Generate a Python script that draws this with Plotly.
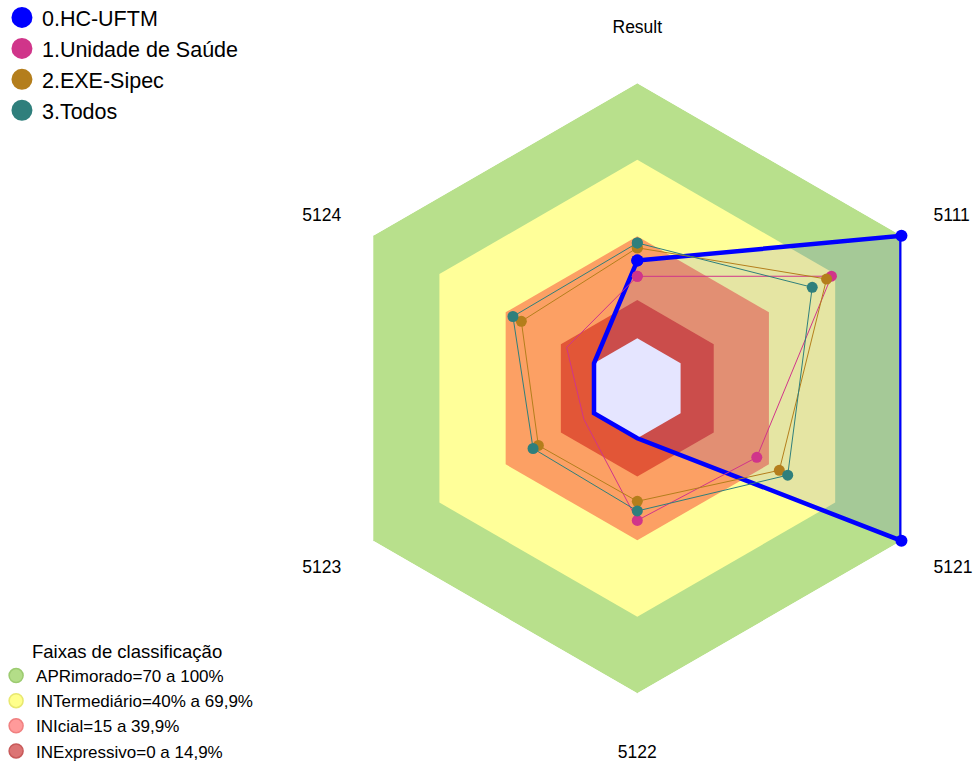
import plotly.graph_objects as go

categories = ["Result", "5111", "5121", "5122", "5123", "5124"]

series_names = ["0.HC-UFTM", "1.Unidade de Saúde", "2.EXE-Sipec", "3.Todos"]
hc_uftm = [30.5, 100, 100, 0, 0, 0]
unidade_saude = [24.3, 68.3, 34.5, 32.2, 4.6, 12.4]
exe_sipec = [35.5, 66.1, 44.7, 24.7, 25.2, 32.9]
todos = [37.4, 59.6, 48.5, 28.5, 27.6, 36.7]
series_values = [hc_uftm, unidade_saude, exe_sipec, todos]
series_colors = ["#0000FF", "#D0358A", "#B47E1C", "#2F7F7C"]

band_names = ["APRimorado=70 a 100%", "INTermediário=40% a 69,9%",
              "INIcial=15 a 39,9%", "INExpressivo=0 a 14,9%"]
band_tops = [100, 70, 40, 15]
band_fill = ["#B8E08C", "#FFFF99", "#FCA064", "#E25637"]
band_legend_color = ["#B3DD88", "#FFFF8C", "#FF9A9A", "#DC7474"]
band_legend_edge = ["#9CCB70", "#E8E870", "#F08080", "#C85A5A"]

# which category labels sit on the side axis vs. the top/bottom axis
side_labels = [c if c not in ("Result", "5122") else "" for c in categories]
vertical_labels = [c if c in ("Result", "5122") else "" for c in categories]

FONT = "Liberation Sans, Arial, sans-serif"

theta_closed = categories + [categories[0]]

fig = go.Figure()

# background bands (hexagons, largest first)
for top, col in zip(band_tops, band_fill):
    fig.add_trace(go.Scatterpolar(
        r=[top] * len(theta_closed), theta=theta_closed, mode="lines",
        fill="toself", fillcolor=col, line=dict(width=0, color=col),
        showlegend=False, hoverinfo="skip"))
# inner empty hexagon (value 0)
fig.add_trace(go.Scatterpolar(
    r=[0] * len(theta_closed), theta=theta_closed, mode="lines",
    fill="toself", fillcolor="white", line=dict(width=0, color="white"),
    showlegend=False, hoverinfo="skip"))

# data series
for i, (name, vals, col) in enumerate(zip(series_names, series_values, series_colors)):
    vals_closed = vals + [vals[0]]
    if i == 0:
        fig.add_trace(go.Scatterpolar(
            r=vals_closed, theta=theta_closed, mode="lines+markers", name=name,
            fill="toself", fillcolor="rgba(0,0,255,0.1)",
            line=dict(color=col, width=4.5), marker=dict(size=12, color=col),
            showlegend=False))
    else:
        fig.add_trace(go.Scatterpolar(
            r=vals_closed, theta=theta_closed, mode="lines+markers", name=name,
            line=dict(color=col, width=1), marker=dict(size=11, color=col),
            showlegend=False))

# legend entries for series
for name, col in zip(series_names, series_colors):
    fig.add_trace(go.Scatterpolar(
        r=[None], theta=[None], mode="markers", name=name,
        marker=dict(size=16, color=col, line=dict(width=5, color=col)),
        legend="legend", showlegend=True))

# legend entries for bands
for name, col, edge in zip(band_names, band_legend_color, band_legend_edge):
    fig.add_trace(go.Scatterpolar(
        r=[None], theta=[None], mode="markers", name=name,
        marker=dict(size=14, color=col, line=dict(width=1.5, color=edge)),
        legend="legend2", showlegend=True))

# overlay subplot carrying the top/bottom category labels
fig.add_trace(go.Scatterpolar(
    r=[None] * len(categories), theta=categories, mode="markers",
    subplot="polar2", showlegend=False, hoverinfo="skip"))

W, H = 975, 761
cx, cy, R = 637.3, 388.3, 305
hole_px = 50
r_min = -hole_px * 100 / (R - hole_px)
domain = dict(x=[(cx - R) / W, (cx + R) / W], y=[1 - (cy + R) / H, 1 - (cy - R) / H])
tickfont = dict(size=17.5, family=FONT, color="black")

fig.update_layout(
    width=W, height=H,
    margin=dict(l=0, r=0, t=0, b=0, autoexpand=False),
    paper_bgcolor="white", plot_bgcolor="white",
    font=dict(family=FONT, color="black"),
    polar=dict(
        domain=domain,
        bgcolor="white",
        gridshape="linear",
        radialaxis=dict(range=[r_min, 100], tickvals=[0, 15, 40, 70], showticklabels=False,
                        ticks="", showline=False, gridcolor="rgba(215,215,215,0.8)", gridwidth=1),
        angularaxis=dict(direction="clockwise", rotation=90, showline=False,
                         gridcolor="rgba(215,215,215,0.8)", gridwidth=1,
                         type="category", categoryorder="array", categoryarray=categories,
                         tickmode="array", tickvals=categories, ticktext=side_labels,
                         ticks="outside", ticklen=33, tickcolor="rgba(0,0,0,0)",
                         tickfont=tickfont),
    ),
    polar2=dict(
        domain=domain,
        bgcolor="rgba(0,0,0,0)",
        gridshape="linear",
        radialaxis=dict(range=[r_min, 100], visible=False, showgrid=False),
        angularaxis=dict(direction="clockwise", rotation=90, showline=False, showgrid=False,
                         type="category", categoryorder="array", categoryarray=categories,
                         tickmode="array", tickvals=categories, ticktext=vertical_labels,
                         ticks="outside", ticklen=43, tickcolor="rgba(0,0,0,0)",
                         tickfont=tickfont),
    ),
    legend=dict(x=0.002, y=1.004, xanchor="left", yanchor="top",
                font=dict(size=21.5, family=FONT, color="black"),
                bgcolor="rgba(0,0,0,0)", tracegroupgap=0),
    legend2=dict(x=-0.004, y=1 - 634 / H, xanchor="left", yanchor="top",
                 title=dict(text="Faixas de classificação", side="top center",
                            font=dict(size=18.5, family=FONT, color="black")),
                 font=dict(size=17, family=FONT, color="black"),
                 bgcolor="rgba(0,0,0,0)", tracegroupgap=0),
)

fig.write_html("out.html", config={"displayModeBar": False},
               post_script="document.body.style.margin='0';")
